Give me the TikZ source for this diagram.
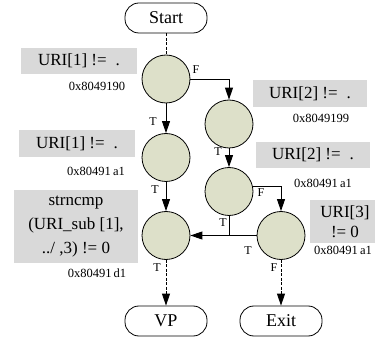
\documentclass[tikz,border=0pt]{standalone}
\usepackage{fontspec}
\setmainfont{Liberation Serif}
\usetikzlibrary{arrows.meta,positioning}
\definecolor{blockfill}{RGB}{221,224,201}
\definecolor{condgray}{RGB}{217,217,217}
\tikzset{
	blk/.style={circle,inner sep=0,fill=blockfill,draw,line width=0.8pt,minimum size=48pt},
	term/.style={rectangle,rounded corners=14pt,draw,line width=0.8pt,minimum width=82pt,minimum height=30pt,font=\fontsize{18}{20}\selectfont},
	cond/.style={rectangle,fill=condgray,inner sep=0,align=center,font=\fontsize{17}{24}\selectfont},
	addr/.style={inner sep=0,font=\fontsize{12.5}{14}\selectfont},
	tf/.style={inner sep=0,font=\fontsize{12}{13}\selectfont},
	edge/.style={color=black, line width=0.9pt},
	diredge/.style={-{Triangle[width=8pt,length=12pt]},color=black, line width=0.9pt},
	dots/.style={dash pattern=on 3pt off 1.5pt}
}

\begin{document}
\begin{tikzpicture}[x=1pt,y=-1pt]
		\useasboundingbox (0,0) rectangle (375,339);
		
		% blocks
		\node[term] (start) at (166,18) {Start};
		\node[blk] (a) at (166,79) {};
		\node[blk] (b) at (229,124) {};
		\node[blk] (c) at (166,157.5) {};
		\node[blk] (d) at (229,191.5) {};
		\node[blk] (e) at (166,235.5) {};
		\node[blk] (f) at (281,235.5) {};
		\node[term] (vp) at (166,321) {VP};
		\node[term] (exit) at (281,321) {Exit};
		\coordinate (j) at (229,235.5);
		
		% conditions
		\node[cond,minimum width=116pt,minimum height=26pt] (ca) at (79,61) {URI[1] !=\hspace{9pt}.};
		\node[addr] (aa) at (97,86) {0x8049190};
		\node[cond,minimum width=114pt,minimum height=27pt] (cb) at (310,93.5) {URI[2] !=\hspace{9pt}.};
		\node[addr] (ab) at (321,118) {0x8049199};
		\node[cond,minimum width=116pt,minimum height=27pt] (cc) at (77,143.5) {URI[1] !=\hspace{9pt}.};
		\node[addr] (ac) at (96,171) {0x80491\,a1};
		\node[cond,minimum width=114pt,minimum height=26pt] (cd) at (313,155) {URI[2] !=\hspace{9pt}.};
		\node[addr] (ad) at (323,183) {0x80491\,a1};
		\node[cond,minimum width=124pt,minimum height=73pt] (ce) at (76,226.5) {strncmp\\(URI\_sub [1],\\../\ ,3) != 0};
		\node[addr] (ae) at (97,273) {0x80491\,d1};
		\node[cond,minimum width=70pt,minimum height=43pt,font=\fontsize{17}{20}\selectfont] (cf) at (345,221.5) {URI[3]\\!= 0};
		\node[addr] (af) at (343,250) {0x80491\,a1};
		
		% connectors
		\draw[edge,dots] (start) -- (a);
		\draw[diredge] (a.east) -| (b);
		\draw[diredge] (a) -- (c);
		\draw[diredge] (b) -- (d);
		\draw[diredge] (c) -- (e);
		\draw[diredge] (d.13) -| (f);
		\draw[edge] (d) -- (j);
		\draw[diredge] (f) -- (e);
		\draw[diredge,dots] (e) -- (vp);
		\draw[diredge,dots] (f) -- (exit);
		
		% branch labels
		\node[tf] (la) at (196,70) {F};
		\node[tf] (lac) at (153,122) {T};
		\node[tf] (lbd) at (218,152) {T};
		\node[tf] (lce) at (155,190) {T};
		\node[tf] (ld) at (261,193) {F};
		\node[tf] (ldj) at (223,223) {T};
		\node[tf] (lfe) at (248,251) {T};
		\node[tf] (le) at (157,268) {T};
		\node[tf] (lf) at (274,268) {F};
	\end{tikzpicture}
\end{document}
